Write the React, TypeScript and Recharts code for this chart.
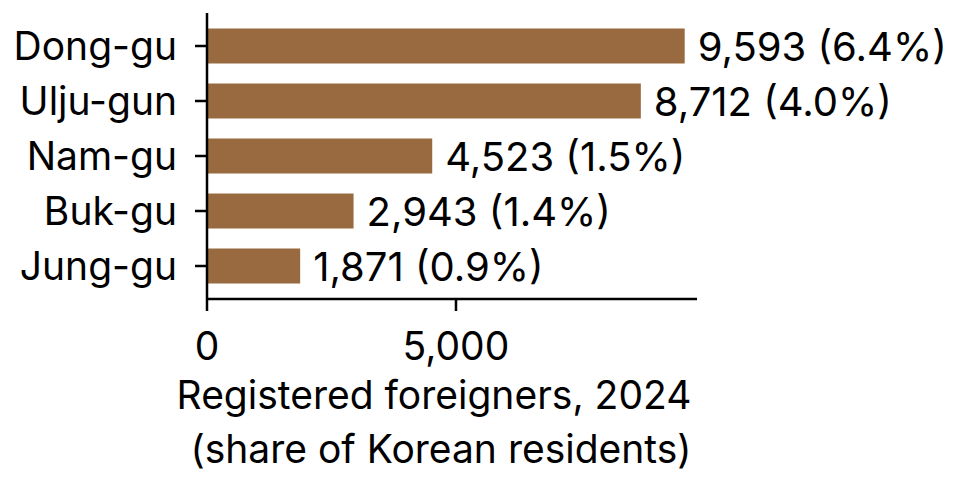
import React from 'react';
import { Bar, BarChart, LabelList, XAxis, YAxis } from 'recharts';

const districts = ['Dong-gu', 'Ulju-gun', 'Nam-gu', 'Buk-gu', 'Jung-gu'];
const foreigners = [9593, 8712, 4523, 2943, 1871];
const shares = [6.4, 4.0, 1.5, 1.4, 0.9];
const xTicks = [0, 5000];
const xLabelLines = ['Registered foreigners, 2024', '(share of Korean residents)'];

const data = districts.map((name, i) => ({ name, value: foreigners[i], share: shares[i] }));

const FONT = 'Inter, "Noto Sans", sans-serif';
const BAR = '#996a3f';

const fmt = (n: number) => n.toLocaleString('en-US');

const ValueLabel = (props: any) => {
  const { x, y, width, height, index } = props;
  const d = data[index];
  return (
    <text
      x={x + width + 13}
      y={y + height / 2}
      dominantBaseline="central"
      fontSize={40}
      fontFamily={FONT}
      fill="#000"
    >
      {`${fmt(d.value)} (${d.share.toFixed(1)}%)`}
    </text>
  );
};

const AxisTitle = (props: any) => {
  const { viewBox } = props;
  const cx = viewBox.x + viewBox.width / 2 - 18;
  return (
    <g>
      <text x={cx} y={409} textAnchor="middle" fontSize={39} fontFamily={FONT} fill="#000">
        {xLabelLines[0]}
      </text>
      <text x={cx + 7} y={463} textAnchor="middle" fontSize={39} fontFamily={FONT} fill="#000">
        {xLabelLines[1]}
      </text>
    </g>
  );
};

export default function App() {
  return (
    <div style={{ width: 962, height: 481, background: '#fff' }}>
      <style>{'body{margin:0}'}</style>
      <BarChart
        width={962}
        height={481}
        data={data}
        layout="vertical"
        margin={{ top: 13, right: 265, bottom: 0, left: 0 }}
      >
        <XAxis
          type="number"
          domain={[0, 9840]}
          ticks={xTicks}
          tickFormatter={fmt}
          height={182}
          tickSize={12}
          tickMargin={21}
          axisLine={{ stroke: '#000', strokeWidth: 2.5 }}
          tickLine={{ stroke: '#000', strokeWidth: 2.5 }}
          tick={{ fill: '#000', fontSize: 39, fontFamily: FONT }}
          label={<AxisTitle />}
        />
        <YAxis
          type="category"
          dataKey="name"
          width={207}
          padding={{ top: 5.5, bottom: 5.5 }}
          tickSize={12}
          tickMargin={18}
          axisLine={{ stroke: '#000', strokeWidth: 2.5 }}
          tickLine={{ stroke: '#000', strokeWidth: 2.5 }}
          tick={{ fill: '#000', fontSize: 39, fontFamily: FONT }}
        />
        <Bar dataKey="value" fill={BAR} barSize={35} isAnimationActive={false}>
          <LabelList dataKey="value" content={<ValueLabel />} />
        </Bar>
      </BarChart>
    </div>
  );
}
